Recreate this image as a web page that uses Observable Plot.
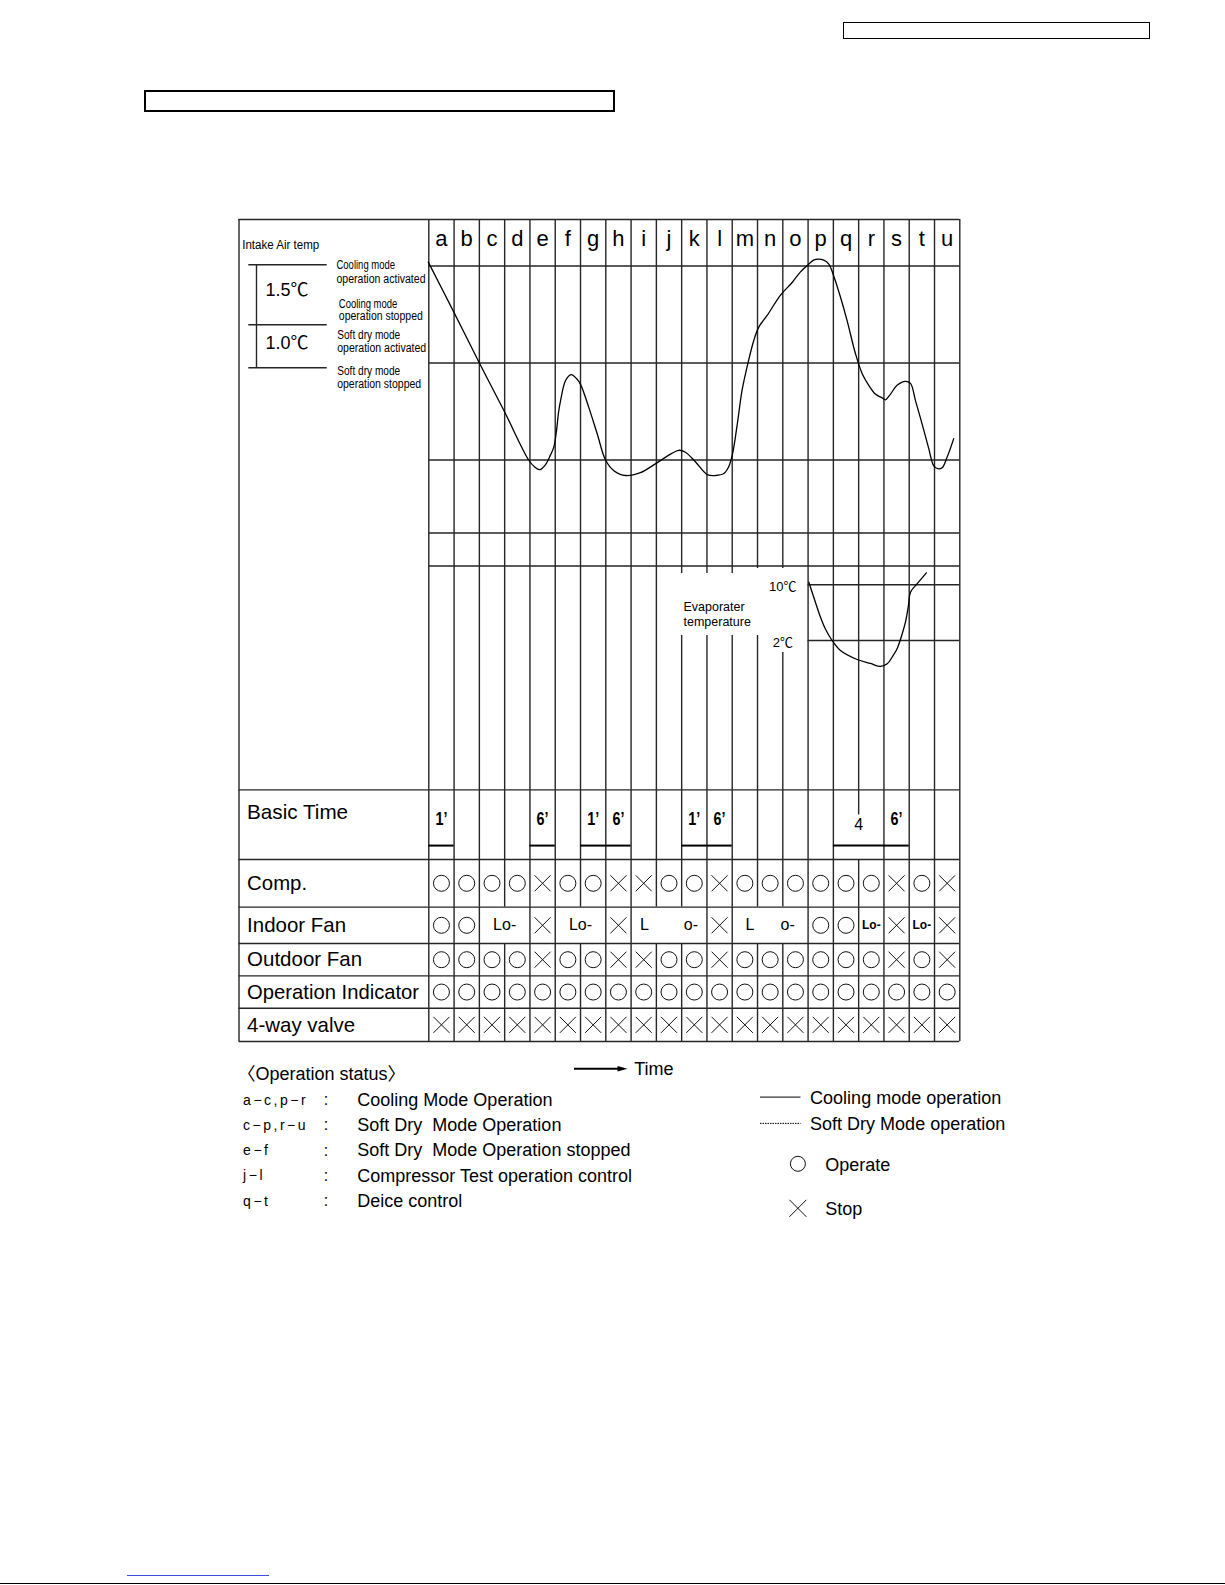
<!DOCTYPE html>
<html>
<head>
<meta charset="utf-8">
<script src="https://cdn.jsdelivr.net/npm/d3@7"></script>
<script src="https://cdn.jsdelivr.net/npm/@observablehq/plot@0.6"></script>
<style>
html,body{margin:0;padding:0;background:#fff;overflow:hidden;}
#page{position:relative;width:1225px;height:1585px;background:#fff;}
#page svg{position:absolute;left:0;top:0;background:transparent;overflow:visible;}
.box{position:absolute;box-sizing:border-box;border-style:solid;border-color:#000;}
.hl{position:absolute;}
</style>
</head>
<body>
<div id="page">
  <div class="box" style="left:843px;top:22px;width:307px;height:17px;border-width:1.5px"></div>
  <div class="box" style="left:144px;top:90px;width:471px;height:22px;border-width:2px"></div>
  <div class="hl" style="left:127px;top:1575px;width:142px;height:1px;background:#3b4fd8"></div>
  <div class="hl" style="left:0;top:1583px;width:1225px;height:1px;background:#000"></div>
</div>
<script>
// ---------------- DATA ----------------
const columns = ["a","b","c","d","e","f","g","h","i","j","k","l","m","n","o","p","q","r","s","t","u"];

// Intake air temperature: time in column units from the start of column a,
// level in chart units (0 = soft dry stop, 1 = soft dry start, 2 = cooling start)
const intakeTime = [-0.02, 0.98, 1.98, 2.97, 3.95, 4.18, 4.39, 4.61, 4.81, 4.94,
  5.05, 5.13, 5.21, 5.41, 5.63, 5.84, 6.00, 6.33, 6.66, 6.99,
  7.32, 7.78, 8.37, 8.96, 9.43, 9.89, 10.15, 10.55, 11.01, 11.34,
  11.67, 11.86, 12.01, 12.20, 12.39, 12.65, 12.85, 13.05, 13.38, 13.91,
  14.37, 14.70, 15.03, 15.22, 15.40, 15.62, 15.82, 16.01, 16.28, 16.54,
  16.87, 17.14, 17.40, 17.66, 17.93, 18.06, 18.26, 18.52, 18.85, 19.05,
  19.25, 19.51, 19.77, 19.97, 20.13, 20.30, 20.50, 20.76];
const intakeLevel = [2.04, 1.53, 1.01, 0.51, 0.00, -0.07, -0.10, -0.05, 0.05, 0.13,
  0.30, 0.49, 0.61, 0.82, 0.88, 0.84, 0.78, 0.54, 0.27, 0.00,
  -0.11, -0.16, -0.13, -0.04, 0.04, 0.10, 0.08, -0.02, -0.15, -0.16,
  -0.14, -0.07, 0.06, 0.37, 0.72, 1.03, 1.23, 1.37, 1.49, 1.70,
  1.83, 1.94, 2.02, 2.06, 2.07, 2.06, 2.02, 1.90, 1.68, 1.44,
  1.10, 0.89, 0.77, 0.68, 0.64, 0.62, 0.68, 0.77, 0.81, 0.79,
  0.61, 0.37, 0.12, -0.06, -0.09, -0.08, 0.03, 0.22];
const intakeThresholds = [2, 1, 0];
const thresholdSteps = ["1.5℃", "1.0℃"];
const thresholdNotes = ["Cooling mode", "operation activated", "Cooling mode", "operation stopped",
  "Soft dry mode", "operation activated", "Soft dry mode", "operation stopped"];

// Evaporator temperature (°C)
const evapTime = [15.03, 15.29, 15.49, 15.68, 15.95, 16.28, 16.94, 17.47, 17.86, 18.13,
  18.34, 18.52, 18.69, 18.85, 18.97, 19.05, 19.31, 19.68];
const evapTemp = [10.37, 7.50, 5.35, 3.68, 2.00, 0.56, -0.73, -1.30, -1.73, -1.35,
  -0.30, 0.81, 2.57, 4.63, 7.03, 8.94, 10.14, 11.72];
const evapLevels = [10, 2];
const evapLevelLabels = ["10℃", "2℃"];

// Table
const rowLabels = ["Basic Time", "Comp.", "Indoor Fan", "Outdoor Fan", "Operation Indicator", "4-way valve"];
const basicTime = [
  {from:"a", to:"a", label:"1’"}, {from:"e", to:"e", label:"6’"},
  {from:"g", to:"g", label:"1’"}, {from:"h", to:"h", label:"6’"},
  {from:"k", to:"k", label:"1’"}, {from:"l", to:"l", label:"6’"},
  {from:"q", to:"r", label:"4"},  {from:"s", to:"s", label:"6’"}];
const comp        = ["○","○","○","○","×","○","○","×","×","○","○","×","○","○","○","○","○","○","×","○","×"];
const outdoorFan  = ["○","○","○","○","×","○","○","×","×","○","○","×","○","○","○","○","○","○","×","○","×"];
const opIndicator = ["○","○","○","○","○","○","○","○","○","○","○","○","○","○","○","○","○","○","○","○","○"];
const fourWayValve= ["×","×","×","×","×","×","×","×","×","×","×","×","×","×","×","×","×","×","×","×","×"];
const indoorFan = [
  {from:"a", to:"a", label:"○"}, {from:"b", to:"b", label:"○"}, {from:"c", to:"d", label:"Lo-"},
  {from:"e", to:"e", label:"×"}, {from:"f", to:"g", label:"Lo-"}, {from:"h", to:"h", label:"×"},
  {from:"i", to:"k", label:"L        o-"}, {from:"l", to:"l", label:"×"}, {from:"m", to:"o", label:"L      o-"},
  {from:"p", to:"p", label:"○"}, {from:"q", to:"q", label:"○"}, {from:"r", to:"r", label:"Lo-"},
  {from:"s", to:"s", label:"×"}, {from:"t", to:"t", label:"Lo-"}, {from:"u", to:"u", label:"×"}];

// Legend
const statusTitle = "〈Operation status〉";
const statusCodes = ["a−c,p−r", "c−p,r−u", "e−f", "j−l", "q−t"];
const statusText = ["Cooling Mode Operation", "Soft Dry  Mode Operation", "Soft Dry  Mode Operation stopped",
  "Compressor Test operation control", "Deice control"];
const lineLegend = ["Cooling mode operation", "Soft Dry Mode operation"];
const symbolLegend = [{sym:"○", label:"Operate"}, {sym:"×", label:"Stop"}];

// ---------------- LAYOUT ----------------
const L = {
  colLeft: 428.3, colRight: 959.3, frameLeft: 238.5,
  top: 219, headerY: 238, chartBottom: 789.4,
  intakePx: [459.5, 265.5],
  extraLines: [532.5, 565.5],
  evapPx: [640, 584.3],
  rowsPx: [789.4, 859, 906.6, 943, 975.4, 1007.7, 1041],
  evapGaps: {10:[573,635], 11:[573,635], 12:[573,635], 13:[568,635], 14:[568,652]},
  panelLines: [264.3, 324.3, 367.3], panelX1: 248.3, panelX2: 326.7, panelVX: 256,
  stepX: 265, stepY: [290, 342.7],
  noteX: [336, 336, 338.3, 338.3, 336.7, 336.7, 336.7, 336.7],
  noteY: [265, 278.5, 303.5, 316, 334.5, 347.5, 371, 384],
  noteW: [60, 89, 58.5, 85, 63, 89, 63, 84],
  rowLabelW: [101, 60, 99, 115, 172, 108]
};
const W = 1225, H = 1250;
const X = {domain: [0, 21], range: [L.colLeft, L.colRight], axis: null};
const px = v => (v - L.colLeft) * 21 / (L.colRight - L.colLeft);
const rowY = (r, f = 0.5) => L.rowsPx[r] + f * (L.rowsPx[r + 1] - L.rowsPx[r]);
const colIdx = c => columns.indexOf(c);
const INK = "#262626", SW = 1.4;
const sans = "'Liberation Sans', Arial, 'Noto Sans CJK SC', sans-serif";

const crossSymbol = {draw(ctx, size) { const r = Math.sqrt(size / Math.PI);
  ctx.moveTo(-r, -r); ctx.lineTo(r, r); ctx.moveTo(r, -r); ctx.lineTo(-r, r); }};
const triSymbol = {draw(ctx, size) { const r = Math.sqrt(size / Math.PI);
  ctx.moveTo(r, 0); ctx.lineTo(-r, -r * 0.55); ctx.lineTo(-r, r * 0.55); ctx.closePath(); }};

function mk(y, marks) {
  return Plot.plot({width: W, height: H, margin: 0, x: X, y: {...y, axis: null}, marks});
}

// ---------- frame / annotation layer ----------
const vSegs = [];
for (let b = 0; b <= 20; b++) {
  const g = L.evapGaps[b];
  if (g) vSegs.push({x: b, y1: L.top, y2: g[0]}, {x: b, y1: g[1], y2: L.chartBottom});
  else vSegs.push({x: b, y1: L.top, y2: L.chartBottom});
}
const legY0 = 1099.6, legDY = 25.27;
const frame = mk({type: "identity"}, [
  Plot.ruleX(vSegs, {x: "x", y1: "y1", y2: "y2", stroke: INK, strokeWidth: SW}),
  Plot.ruleX([px(L.frameLeft), 21], {y1: L.top, y2: L.rowsPx[6], stroke: INK, strokeWidth: SW}),
  Plot.ruleY([L.top], {x1: px(L.frameLeft), x2: 21, stroke: INK, strokeWidth: SW}),
  Plot.ruleY(L.extraLines, {x1: 0, x2: 21, stroke: INK, strokeWidth: SW}),
  Plot.ruleY(L.panelLines, {x1: px(L.panelX1), x2: px(L.panelX2), stroke: INK, strokeWidth: SW}),
  Plot.ruleX([px(L.panelVX)], {y1: L.panelLines[0], y2: L.panelLines[2], stroke: INK, strokeWidth: SW}),
  Plot.text(["Intake Air temp"], {x: px(241.7), y: 245, textAnchor: "start", fontSize: 12, fontFamily: sans, fill: "#000"}),
  Plot.text(thresholdSteps, {x: px(L.stepX), y: (d, i) => L.stepY[i], textAnchor: "start", fontSize: 18, fontFamily: sans, fill: "#000"}),
  Plot.text(thresholdNotes, {x: (d, i) => px(L.noteX[i]), y: (d, i) => L.noteY[i], textAnchor: "start", fontSize: 12, fontFamily: sans, fill: "#000"}),
  Plot.text(columns, {x: (d, i) => i + 0.5, y: L.headerY, fontSize: 22, fontFamily: sans, fill: "#000"}),
  Plot.text(["Evaporater\ntemperature"], {x: px(683), y: 613, textAnchor: "start", lineHeight: 1.2, fontSize: 12.5, fontFamily: sans, fill: "#000"}),
  // legend
  Plot.text([statusTitle], {x: px(237), y: 1073.4, textAnchor: "start", fontSize: 18, fontFamily: sans, fill: "#000"}),
  Plot.ruleY([1068.3], {x1: px(574), x2: px(620), stroke: "#000", strokeWidth: 2}),
  Plot.dot([0], {x: px(622), y: 1068.3, r: 5, symbol: triSymbol, fill: "#000", stroke: "none"}),
  Plot.text(["Time"], {x: px(633.7), y: 1069, textAnchor: "start", fontSize: 18, fontFamily: sans, fill: "#000"}),
  Plot.text(statusCodes, {x: px(242.6), y: (d, i) => legY0 + i * legDY, textAnchor: "start", fontSize: 14, fontFamily: sans, fill: "#000"}),
  Plot.text(statusCodes, {x: px(325.4), y: (d, i) => legY0 + i * legDY, text: () => ":", fontSize: 16, fontFamily: sans, fill: "#000"}),
  Plot.text(statusText, {x: px(356.8), y: (d, i) => legY0 + i * legDY, textAnchor: "start", fontSize: 18, fontFamily: sans, fill: "#000"}),
  Plot.ruleY([1096.6], {x1: px(760), x2: px(800.5), stroke: "#000", strokeWidth: 1}),
  Plot.ruleY([1122.9], {x1: px(760), x2: px(800.5), stroke: "#000", strokeWidth: 1, strokeDasharray: "1.5,1"}),
  Plot.text(lineLegend, {x: px(809.6), y: (d, i) => 1097.6 + i * 26.4, textAnchor: "start", fontSize: 18, fontFamily: sans, fill: "#000"}),
  Plot.dot(symbolLegend.filter(d => d.sym === "○"), {x: px(797.4), y: 1163.3, r: 7.5, stroke: "#111", fill: "none", strokeWidth: 1}),
  Plot.dot(symbolLegend.filter(d => d.sym === "×"), {x: px(797.4), y: 1207.8, r: 8.5, symbol: crossSymbol, stroke: "#111", fill: "none", strokeWidth: 1}),
  Plot.text(symbolLegend, {x: px(824.7), y: (d, i) => 1165 + i * 43.8, text: "label", textAnchor: "start", fontSize: 18, fontFamily: sans, fill: "#000"})
]);

// ---------- intake air temperature layer ----------
const intake = mk({domain: [0, 2], range: L.intakePx}, [
  Plot.ruleY(intakeThresholds, {x1: 0, x2: 21, stroke: INK, strokeWidth: SW}),
  Plot.line(intakeTime.map((t, i) => ({t, v: intakeLevel[i]})), {x: "t", y: "v", curve: "catmull-rom", stroke: "#000", strokeWidth: 1.3})
]);

// ---------- evaporator temperature layer ----------
const evap = mk({domain: [2, 10], range: L.evapPx}, [
  Plot.ruleY(evapLevels, {x1: 15, x2: 21, stroke: INK, strokeWidth: SW}),
  Plot.text(evapLevels, {x: 14, y: d => d, dy: 2, text: (d, i) => evapLevelLabels[i], fontSize: 13, fontFamily: sans, fill: "#000"}),
  Plot.line(evapTime.map((t, i) => ({t, v: evapTemp[i]})), {x: "t", y: "v", curve: "catmull-rom", stroke: "#000", strokeWidth: 1.3})
]);

// ---------- table layer ----------
const merged = new Set();
indoorFan.forEach(s => { for (let b = colIdx(s.from) + 1; b <= colIdx(s.to); b++) merged.add(b); });
const tSegs = [];
for (let r = 0; r < 6; r++) for (let b = 0; b <= 20; b++) {
  if (r === 2 && merged.has(b)) continue;
  if (r === 0 && b === 17) { tSegs.push({x: b, y1: rowY(0, 0), y2: rowY(0, 0.36)}); continue; }
  tSegs.push({x: b, y1: rowY(r, 0), y2: rowY(r, 1)});
}
const cells = [];
[[1, comp], [3, outdoorFan], [4, opIndicator], [5, fourWayValve]].forEach(([r, arr]) =>
  arr.forEach((v, i) => cells.push({col: i, row: r, v})));
indoorFan.forEach(s => { if (s.label === "○" || s.label === "×") cells.push({col: colIdx(s.from), row: 2, v: s.label}); });
const fanText = indoorFan.filter(s => s.label !== "○" && s.label !== "×")
  .map(s => ({x: (colIdx(s.from) + colIdx(s.to) + 1) / 2, label: s.label, single: s.from === s.to}));

const table = mk({type: "identity"}, [
  Plot.ruleY(L.rowsPx, {x1: px(L.frameLeft), x2: 21, stroke: INK, strokeWidth: SW}),
  Plot.ruleX(tSegs, {x: "x", y1: "y1", y2: "y2", stroke: INK, strokeWidth: SW}),
  Plot.text(rowLabels, {x: px(246.6), y: (d, i) => i === 0 ? rowY(0, 0.32) : rowY(i), textAnchor: "start", fontSize: 21, fontFamily: sans, fill: "#000"}),
  Plot.text(basicTime.filter(d => d.from === d.to), {x: d => colIdx(d.from) + 0.5, y: rowY(0, 0.42),
    text: "label", fontSize: 19, fontFamily: sans, fontWeight: "bold", fill: "#000"}),
  Plot.text(basicTime.filter(d => d.from !== d.to), {x: d => (colIdx(d.from) + colIdx(d.to) + 1) / 2, y: rowY(0, 0.5),
    text: "label", fontSize: 16, fontFamily: sans, fill: "#000"}),
  Plot.ruleY(basicTime, {y: rowY(0, 0.8), x1: d => colIdx(d.from), x2: d => colIdx(d.to) + 1, stroke: "#000", strokeWidth: 2}),
  Plot.dot(cells.filter(c => c.v === "○"), {x: d => d.col + 0.5, y: d => rowY(d.row), r: 8, stroke: "#111", fill: "none", strokeWidth: 1}),
  Plot.dot(cells.filter(c => c.v === "×"), {x: d => d.col + 0.5, y: d => rowY(d.row), r: 8, symbol: crossSymbol, stroke: "#111", fill: "none", strokeWidth: 1}),
  Plot.text(fanText.filter(d => !d.single), {x: "x", y: rowY(2), text: "label", fontSize: 16, fontFamily: sans, fill: "#000"}),
  Plot.text(fanText.filter(d => d.single), {x: "x", y: rowY(2), text: "label", fontSize: 12, fontWeight: "bold", fontFamily: sans, fill: "#000"})
]);

const page = document.getElementById("page");
[frame, intake, evap, table].forEach(s => page.appendChild(s));

// condensed lettering like the scanned original
function fit(svg, widths) {
  d3.select(svg).selectAll("text").each(function() {
    const w = widths.get(this.textContent);
    if (w) d3.select(this).attr("textLength", w).attr("lengthAdjust", "spacingAndGlyphs");
  });
}
const frameW = new Map(thresholdNotes.map((t, i) => [t, L.noteW[i]]));
frameW.set("Intake Air temp", 77);
fit(frame, frameW);
fit(table, new Map([...rowLabels.map((t, i) => [t, L.rowLabelW[i]]), ["1’", 12], ["6’", 12]]));
d3.select(frame).selectAll("text").filter(function() { return statusCodes.includes(this.textContent); })
  .attr("letter-spacing", "2.5px");
</script>
</body>
</html>
